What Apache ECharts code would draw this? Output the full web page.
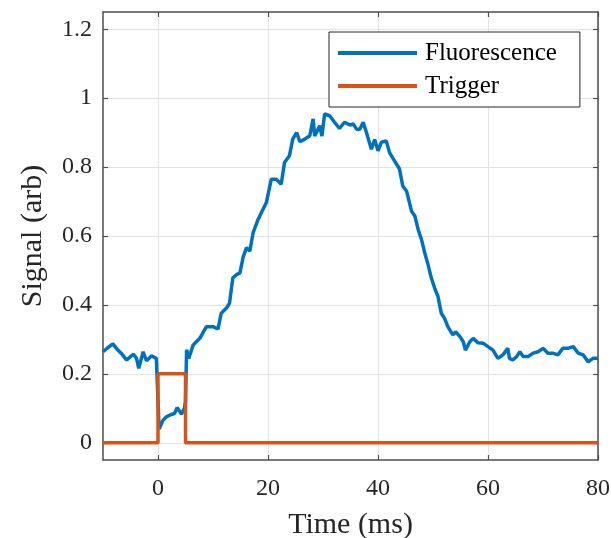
<!DOCTYPE html>
<html>
<head>
<meta charset="utf-8">
<script src="https://cdn.jsdelivr.net/npm/echarts@6/dist/echarts.min.js"></script>
<style>html,body{margin:0;padding:0;background:#fff}#c{width:611px;height:538px}</style>
</head>
<body>
<div id="c"></div>
<script>
// ---- data ----
var fluoTime = [-10,-9.2,-8.2,-7.3,-6.7,-5.7,-4.5,-3.9,-3.5,-2.7,-2.1,-1.2,-0.3,0,0.2,0.9,1.5,2.4,3.0,3.5,4.25,4.8,5.0,5.2,5.6,6.4,7.6,8.8,10,10.9,11.5,12.4,13,13.6,14.3,14.9,15.5,16.1,16.7,17.3,18.2,18.5,19.7,20.6,21.5,22.4,23,23.9,24.5,25.2,25.8,26.7,27.6,28.2,28.5,29.4,29.8,30.3,31.2,32.1,33,33.9,34.9,35.5,36.1,36.7,37.3,37.9,38.8,39.4,40,40.6,41.5,42.1,43,43.9,44.5,45.2,46.1,46.7,47.3,47.9,48.5,49.1,49.7,50.3,50.9,51.5,52.1,52.7,53.6,54.1,54.9,55.5,55.9,56.7,57.3,58.2,59.1,60,60.9,61.8,62.7,63.6,63.9,64.5,65.2,65.8,66.4,67.3,68.2,69.1,70,70.9,71.8,72.7,73.6,74.5,75.5,76.4,77.3,78.2,79.1,80];
var fluoValue = [0.264,0.275,0.287,0.269,0.26,0.24,0.257,0.245,0.216,0.264,0.238,0.252,0.245,0.24,0.04,0.065,0.075,0.082,0.085,0.102,0.083,0.1,0.12,0.27,0.245,0.284,0.303,0.337,0.337,0.33,0.376,0.39,0.405,0.478,0.488,0.493,0.54,0.566,0.556,0.61,0.648,0.658,0.697,0.765,0.765,0.75,0.813,0.833,0.881,0.9,0.874,0.881,0.891,0.94,0.89,0.92,0.89,0.954,0.949,0.93,0.912,0.93,0.922,0.925,0.91,0.91,0.93,0.9,0.852,0.88,0.847,0.872,0.876,0.842,0.818,0.795,0.745,0.73,0.672,0.658,0.619,0.59,0.551,0.517,0.478,0.449,0.425,0.376,0.361,0.337,0.313,0.322,0.308,0.293,0.269,0.293,0.303,0.29,0.289,0.279,0.269,0.245,0.255,0.274,0.245,0.24,0.25,0.264,0.25,0.25,0.26,0.264,0.274,0.26,0.26,0.255,0.274,0.274,0.279,0.26,0.255,0.235,0.245,0.245];
var trigTime = [-10,0,0,5,5,80];
var trigValue = [0,0,0.2,0.2,0,0];
var xTicks = [0,20,40,60,80];
var yTicks = [0,0.2,0.4,0.6,0.8,1,1.2];
var seriesNames = ['Fluorescence','Trigger'];

var FONT = '"Liberation Serif", serif';
var AX = '#4d4d4d';
function zip(a,b){return a.map(function(x,i){return [x,b[i]];});}

var chart = echarts.init(document.getElementById('c'), null, {renderer:'canvas'});
var base = {
  axisLine:{show:true,onZero:false,lineStyle:{color:AX,width:1.5}},
  axisTick:{show:true,inside:true,length:5,lineStyle:{color:AX,width:1.2}}
};
chart.setOption({
  animation:false,
  backgroundColor:'#fff',
  grid:{left:103,right:13,top:12,bottom:78,containLabel:false,outerBoundsMode:'none'},
  legend:{
    orient:'vertical', left:329, top:32, padding:[8,23,8,9], itemGap:7,
    itemWidth:79, itemHeight:4, icon:'rect',
    borderColor:'#262626', borderWidth:1, backgroundColor:'#fff',
    textStyle:{fontFamily:FONT,fontSize:25,color:'#000',lineHeight:26,padding:[0,0,0,3]},
    data:seriesNames
  },
  xAxis:[
    Object.assign({}, base, {type:'value',min:-10,max:80,position:'bottom',
      axisTick:Object.assign({},base.axisTick,{customValues:xTicks}),
      axisLabel:{customValues:xTicks,fontFamily:FONT,fontSize:24,color:'#262626',margin:17},
      splitLine:{show:true,lineStyle:{color:'#e3e3e3',width:1}},
      name:'Time (ms)',nameLocation:'middle',nameGap:50,
      nameTextStyle:{fontFamily:FONT,fontSize:30,color:'#262626'}}),
    Object.assign({}, base, {type:'value',min:-10,max:80,position:'top',
      axisTick:Object.assign({},base.axisTick,{customValues:xTicks}),
      axisLabel:{show:false},splitLine:{show:false}})
  ],
  yAxis:[
    Object.assign({}, base, {type:'value',min:-0.05,max:1.25,position:'left',
      axisTick:Object.assign({},base.axisTick,{customValues:yTicks}),
      axisLabel:{customValues:yTicks,fontFamily:FONT,fontSize:24,color:'#262626',margin:11},
      splitLine:{show:true,lineStyle:{color:'#e3e3e3',width:1}},
      name:'Signal (arb)',nameLocation:'middle',nameGap:55,
      nameTextStyle:{fontFamily:FONT,fontSize:30,color:'#262626'}}),
    Object.assign({}, base, {type:'value',min:-0.05,max:1.25,position:'right',
      axisTick:Object.assign({},base.axisTick,{customValues:yTicks}),
      axisLabel:{show:false},splitLine:{show:false}})
  ],
  series:[
    {name:seriesNames[0],type:'line',data:zip(fluoTime,fluoValue),showSymbol:false,symbol:'none',
     lineStyle:{color:'#0072BD',width:3.5},itemStyle:{color:'#0072BD'},xAxisIndex:0,yAxisIndex:0},
    {name:seriesNames[1],type:'line',data:zip(trigTime,trigValue),showSymbol:false,symbol:'none',
     lineStyle:{color:'#D95319',width:3.5},itemStyle:{color:'#D95319'},xAxisIndex:0,yAxisIndex:0}
  ]
});
</script>
</body>
</html>
